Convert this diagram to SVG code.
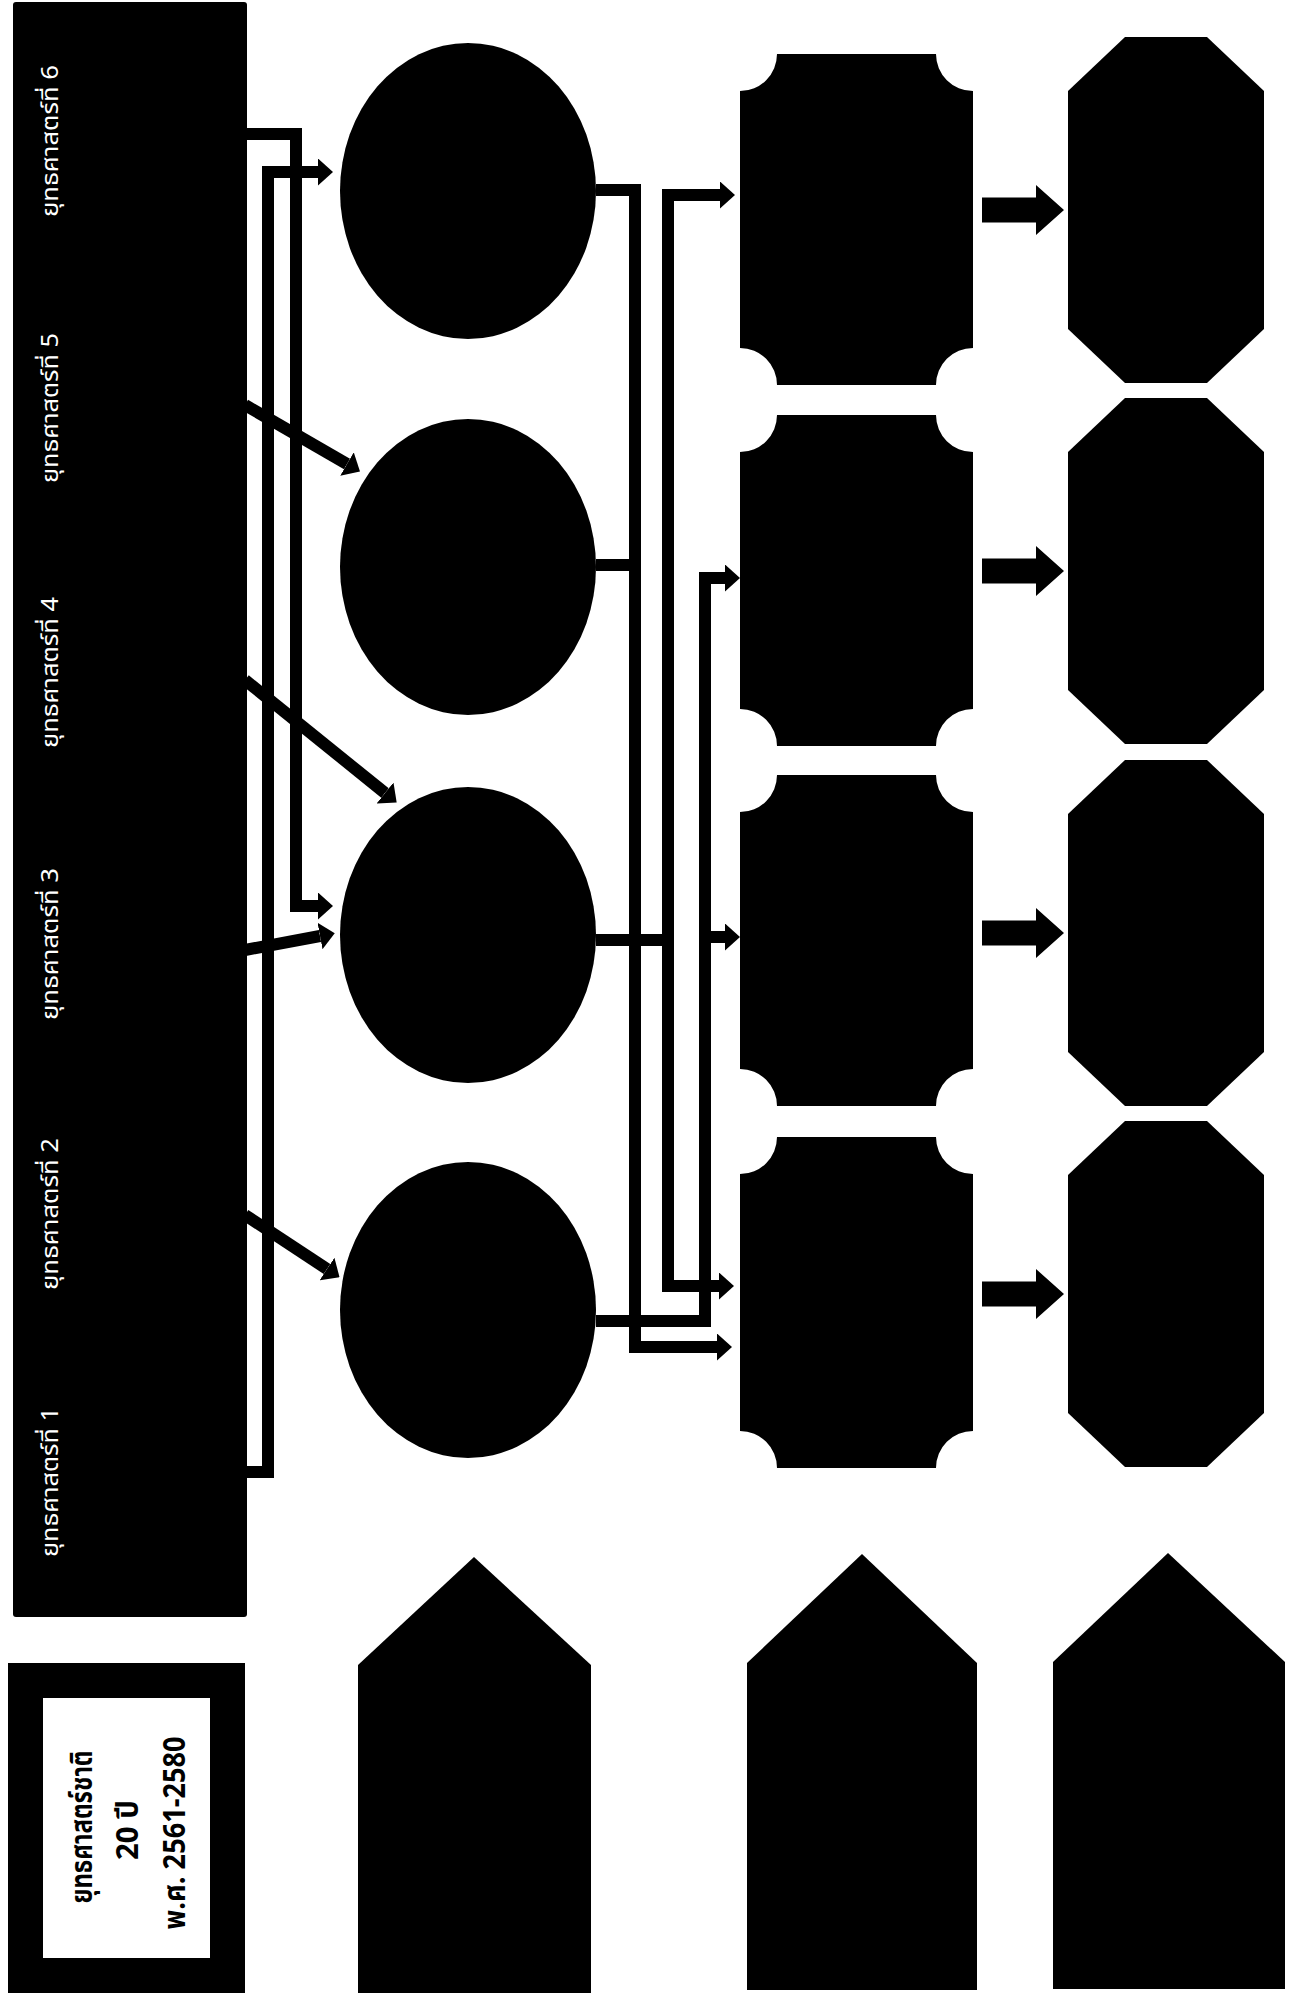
<svg xmlns="http://www.w3.org/2000/svg" width="1294" height="1999" viewBox="0 0 1294 1999">
<style>
.bg{fill:#fff}
.blk{fill:#000}
.con{fill:none;stroke:#000;stroke-width:12;stroke-linejoin:miter;stroke-linecap:butt}
.lbl{font-family:"Noto Sans Thai","Loma","Garuda","Tlwg Typo","DejaVu Sans","Liberation Sans",sans-serif;fill:#fff;font-size:23px}
.ttl{font-family:"Noto Sans Thai","Loma","Garuda","Tlwg Typo","DejaVu Sans","Liberation Sans",sans-serif;fill:#000;font-size:30px;font-weight:bold;text-anchor:middle}
</style>
<defs>
<marker id="ah" viewBox="0 -13.5 15 27" refX="0" refY="0" markerWidth="15" markerHeight="27" markerUnits="userSpaceOnUse" orient="auto-start-reverse">
<path d="M0,-13.5 L15,0 L0,13.5 Z" fill="#000"/>
</marker>
</defs>
<rect class="bg" x="0" y="0" width="1294" height="1999"/>

<g id="strategies-band">
<rect class="blk" x="13" y="2" width="234" height="1615" rx="3"/>
<text class="lbl" transform="translate(58,1557) rotate(-90)" textLength="150" lengthAdjust="spacingAndGlyphs">ยุทธศาสตร์ที่ 1</text>
<text class="lbl" transform="translate(58,1290) rotate(-90)" textLength="152" lengthAdjust="spacingAndGlyphs">ยุทธศาสตร์ที่ 2</text>
<text class="lbl" transform="translate(58,1020) rotate(-90)" textLength="152" lengthAdjust="spacingAndGlyphs">ยุทธศาสตร์ที่ 3</text>
<text class="lbl" transform="translate(58,748) rotate(-90)" textLength="151" lengthAdjust="spacingAndGlyphs">ยุทธศาสตร์ที่ 4</text>
<text class="lbl" transform="translate(58,483) rotate(-90)" textLength="150" lengthAdjust="spacingAndGlyphs">ยุทธศาสตร์ที่ 5</text>
<text class="lbl" transform="translate(58,217) rotate(-90)" textLength="152" lengthAdjust="spacingAndGlyphs">ยุทธศาสตร์ที่ 6</text>
</g>

<g id="title">
<rect x="25.5" y="1680.5" width="202" height="295" fill="#fff" stroke="#000" stroke-width="35"/>
<text class="ttl" transform="translate(92,1827) rotate(-90)" textLength="153" lengthAdjust="spacingAndGlyphs">ยุทธศาสตร์ชาติ</text>
<text class="ttl" transform="translate(138,1830) rotate(-90)" textLength="60" lengthAdjust="spacingAndGlyphs">20 ปี</text>
<text class="ttl" transform="translate(185,1833) rotate(-90)" textLength="193" lengthAdjust="spacingAndGlyphs">พ.ศ. 2561-2580</text>
</g>

<g id="circle-1"><ellipse class="blk" cx="468" cy="191" rx="128" ry="148"/></g>
<g id="circle-2"><ellipse class="blk" cx="468" cy="567" rx="128" ry="148"/></g>
<g id="circle-3"><ellipse class="blk" cx="468" cy="935" rx="128" ry="148"/></g>
<g id="circle-4"><ellipse class="blk" cx="468" cy="1310" rx="128" ry="148"/></g>

<g id="goal-1"><path class="blk" d="M777,54 H936 A37 37 0 0 0 973,91 V348 A37 37 0 0 0 936,385 H777 A37 37 0 0 0 740,348 V91 A37 37 0 0 0 777,54 Z"/></g>
<g id="goal-2"><path class="blk" d="M777,415 H936 A37 37 0 0 0 973,452 V709 A37 37 0 0 0 936,746 H777 A37 37 0 0 0 740,709 V452 A37 37 0 0 0 777,415 Z"/></g>
<g id="goal-3"><path class="blk" d="M777,775 H936 A37 37 0 0 0 973,812 V1069 A37 37 0 0 0 936,1106 H777 A37 37 0 0 0 740,1069 V812 A37 37 0 0 0 777,775 Z"/></g>
<g id="goal-4"><path class="blk" d="M777,1137 H936 A37 37 0 0 0 973,1174 V1431 A37 37 0 0 0 936,1468 H777 A37 37 0 0 0 740,1431 V1174 A37 37 0 0 0 777,1137 Z"/></g>

<g id="result-1"><polygon class="blk" points="1125,37 1207,37 1264,91 1264,329 1207,383 1125,383 1068,329 1068,91"/></g>
<g id="result-2"><polygon class="blk" points="1125,398 1207,398 1264,452 1264,690 1207,744 1125,744 1068,690 1068,452"/></g>
<g id="result-3"><polygon class="blk" points="1125,760 1207,760 1264,814 1264,1052 1207,1106 1125,1106 1068,1052 1068,814"/></g>
<g id="result-4"><polygon class="blk" points="1125,1121 1207,1121 1264,1175 1264,1413 1207,1467 1125,1467 1068,1413 1068,1175"/></g>

<g id="pillar-1"><polygon class="blk" points="474,1557 591,1665 591,1993 358,1993 358,1665"/></g>
<g id="pillar-2"><polygon class="blk" points="862,1554 977,1663 977,1990 747,1990 747,1663"/></g>
<g id="pillar-3"><polygon class="blk" points="1168,1553 1285,1662 1285,1989 1053,1989 1053,1662"/></g>

<g id="connectors">
<path class="con" d="M245,1472 H268 V172 H318" marker-end="url(#ah)"/>
<path class="con" d="M245,134 H296 V906 H318" marker-end="url(#ah)"/>
<path class="con" d="M245,405 L347,464" marker-end="url(#ah)"/>
<path class="con" d="M245,680 L385,793" marker-end="url(#ah)"/>
<path class="con" d="M245,950 L320,936" marker-end="url(#ah)"/>
<path class="con" d="M245,1215 L327,1269" marker-end="url(#ah)"/>
<path class="con" d="M596,190 H635 V1347 H717" marker-end="url(#ah)"/>
<path class="con" d="M596,565 H635"/>
<path class="con" d="M720,195 H668 V1286 H719" marker-start="url(#ah)" marker-end="url(#ah)"/>
<path class="con" d="M596,940 H668"/>
<path class="con" d="M725,578 H705 V1321 H596" marker-start="url(#ah)"/>
<path class="con" d="M705,937 H725" marker-end="url(#ah)"/>
<polygon class="blk" points="982,197.5 1036,197.5 1036,185 1064,210 1036,235 1036,222.5 982,222.5"/>
<polygon class="blk" points="982,558.5 1036,558.5 1036,546 1064,571 1036,596 1036,583.5 982,583.5"/>
<polygon class="blk" points="982,920.5 1036,920.5 1036,908 1064,933 1036,958 1036,945.5 982,945.5"/>
<polygon class="blk" points="982,1281.5 1036,1281.5 1036,1269 1064,1294 1036,1319 1036,1306.5 982,1306.5"/>
</g>
</svg>
